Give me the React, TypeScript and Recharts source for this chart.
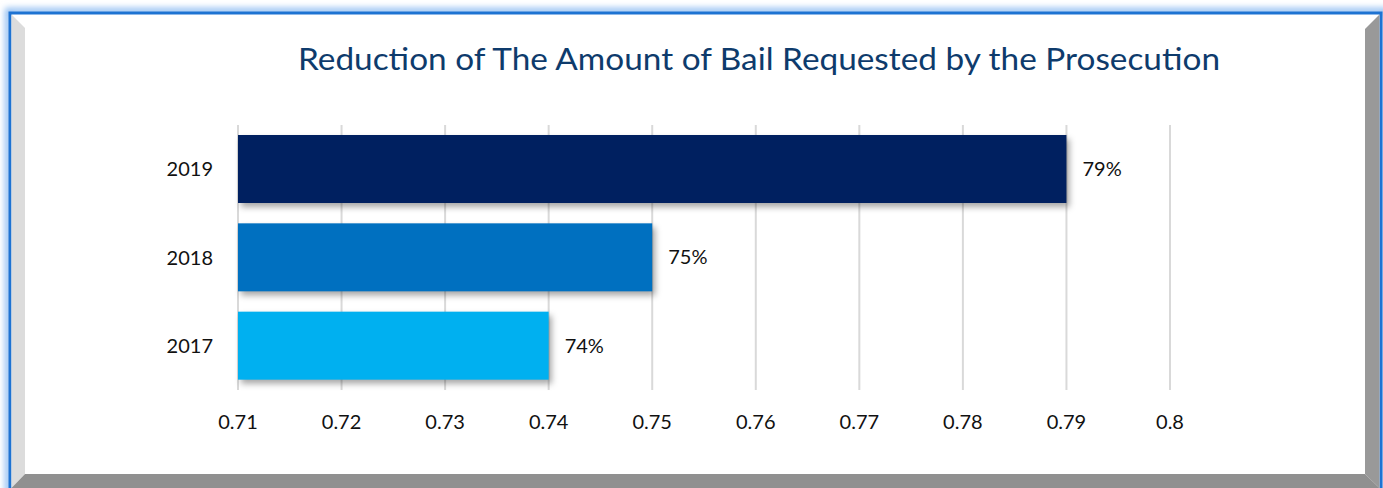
import React from "react";
import { BarChart, Bar, XAxis, YAxis, CartesianGrid, LabelList } from "recharts";

const years = ["2019", "2018", "2017"];
const reductionValues = [0.79, 0.75, 0.74];
const xTicks = [0.71, 0.72, 0.73, 0.74, 0.75, 0.76, 0.77, 0.78, 0.79, 0.8];
const barColors = ["#002060", "#0070C0", "#00B0F0"];
const title = "Reduction of The Amount of Bail Requested by the Prosecution";

const data = years.map((y, i) => ({ year: y, value: reductionValues[i] }));

const FONT = "Lato, 'Open Sans', sans-serif";

const ShadowBar = (props: any) => {
  const { x, y, width, height, index } = props;
  return (
    <rect
      x={x}
      y={y}
      width={width}
      height={height}
      fill={barColors[index]}
      style={{ filter: "drop-shadow(3px 4px 3px rgba(0,0,0,0.35))" }}
    />
  );
};

export default function App() {
  return (
    <div style={{ position: "fixed", left: 0, top: 0, width: 1383, height: 488, background: "#fff", overflow: "hidden" }}>
      <svg width={1383} height={488} style={{ position: "absolute", left: 0, top: 0 }}>
        <defs>
          <filter id="glow" x="-5%" y="-20%" width="110%" height="140%">
            <feGaussianBlur stdDeviation="3" />
          </filter>
        </defs>
        <rect x={8} y={11} width={1378} height={490} fill="none" stroke="#8dbcf2" strokeWidth={6} filter="url(#glow)" />
        <rect x={10} y={13} width={1371} height={490} fill="#ffffff" stroke="#1E73D2" strokeWidth={3} />
        <polygon points="11.5,14.5 25,28 25,474 11.5,488" fill="#dcdcdc" />
        <polygon points="1379.5,14.5 1365,29 1365,474 1379.5,488" fill="#999999" />
        <polygon points="11.5,488 25,474 1365,474 1379.5,488" fill="#909090" />
        <text
          x={759}
          y={70}
          textAnchor="middle"
          fontFamily={FONT}
          fontSize={31}
          fill="#0E3B6C"
          textLength={922}
          lengthAdjust="spacingAndGlyphs"
        >
          {title}
        </text>
      </svg>
      <div style={{ position: "absolute", left: 0, top: 0 }}>
        <BarChart
          width={1383}
          height={488}
          data={data}
          layout="vertical"
          margin={{ top: 125, right: 213, bottom: 38, left: 0 }}
        >
          <CartesianGrid horizontal={false} vertical={true} stroke="#d9d9d9" strokeWidth={2} />
          <XAxis
            type="number"
            dataKey="value"
            domain={[0.71, 0.8]}
            ticks={xTicks}
            interval={0}
            height={60}
            axisLine={false}
            tickLine={false}
            tickSize={0}
            tickMargin={25}
            tick={{ fill: "#111", fontSize: 20, fontFamily: FONT }}
          />
          <YAxis
            type="category"
            dataKey="year"
            width={238}
            axisLine={false}
            tickLine={false}
            tickSize={0}
            tickMargin={25}
            tick={{ fill: "#111", fontSize: 20, fontFamily: FONT }}
          />
          <Bar dataKey="value" barSize={68} isAnimationActive={false} shape={ShadowBar}>
            <LabelList
              dataKey="value"
              position="right"
              offset={16}
              formatter={(v: any) => `${Math.round(Number(v) * 100)}%`}
              style={{ fill: "#111", fontSize: 20, fontFamily: FONT }}
            />
          </Bar>
        </BarChart>
      </div>
    </div>
  );
}
